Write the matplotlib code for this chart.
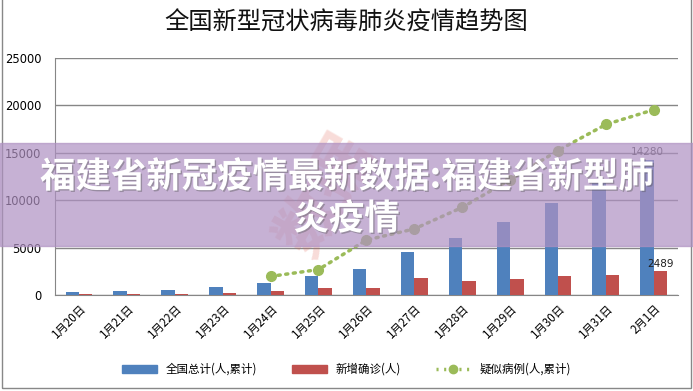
import numpy as np
import matplotlib
matplotlib.use("Agg")
import matplotlib.pyplot as plt
import matplotlib.patheffects as pe
from matplotlib.patches import Rectangle
from matplotlib.lines import Line2D

plt.rcParams['font.family'] = ['Noto Sans CJK SC', 'DejaVu Sans']

days = ["1月20日", "1月21日", "1月22日", "1月23日", "1月24日", "1月25日", "1月26日",
        "1月27日", "1月28日", "1月29日", "1月30日", "1月31日", "2月1日"]
total = [291, 440, 571, 830, 1287, 1975, 2744, 4515, 5974, 7711, 9692, 11791, 14280]
new_cases = [77, 149, 131, 259, 444, 688, 769, 1771, 1459, 1737, 1982, 2102, 2489]
suspect = [1965, 2684, 5794, 6973, 9239, 12167, 15238, 17988, 19544]

BLUE, RED, GREEN = "#4F81BD", "#C0504D", "#9BBB59"

fig = plt.figure(figsize=(6.93, 3.91), dpi=100)
ax = fig.add_axes([0.0794, 0.2455, 0.8986, 0.6062])

x = np.arange(len(days))
w = 0.28
ax.bar(x - w/2, total, w, color=BLUE, zorder=3)
ax.bar(x + w/2, new_cases, w, color=RED, zorder=3)
xs = x[len(days) - len(suspect):]
ax.plot(xs, suspect, color=GREEN, ls=(0, (0.6, 1.6)), lw=2.5, marker="o",
        ms=7, zorder=4, dash_capstyle="round")

ax.text(x[-1] - w/2, total[-1] + 250, f"{total[-1]}", ha="center", va="bottom",
        fontsize=7.5, color="#404040", family="DejaVu Sans", zorder=5)
ax.text(x[-1] + w/2, new_cases[-1] + 250, f"{new_cases[-1]}", ha="center", va="bottom",
        fontsize=7.5, color="#202020", family="DejaVu Sans", zorder=5)

ax.set_xlim(-0.5, len(days) - 0.5)
ax.set_ylim(0, 25000)
ax.set_yticks(range(0, 25001, 5000))
ax.set_yticklabels([str(v) for v in range(0, 25001, 5000)], family="DejaVu Sans",
                   fontsize=8.3)
ax.yaxis.grid(True, color="#868686", lw=1, zorder=0)
ax.set_xticks(x)
ax.set_xticklabels(days, rotation=45, ha="right", rotation_mode="anchor", fontsize=8.3)
ax.tick_params(axis="x", length=0, pad=5)
ax.tick_params(axis="y", length=0, pad=10)
for s in ["top", "right"]:
    ax.spines[s].set_visible(False)
for s in ["left", "bottom"]:
    ax.spines[s].set_color("#868686")

fig.text(0.5, 0.943, "全国新型冠状病毒肺炎疫情趋势图", ha="center", va="center",
         fontsize=17.5, color="#111111")

# legend
handles = [Rectangle((0, 0), 1, 1, color=BLUE), Rectangle((0, 0), 1, 1, color=RED),
           Line2D([], [], color=GREEN, ls=(0, (0.6, 1.6)), lw=2.5, marker="o", ms=6)]
fig.legend(handles, ["全国总计(人,累计)", "新增确诊(人)", "疑似病例(人,累计)"],
           loc="center", bbox_to_anchor=(0.5, 0.055), ncol=3, frameon=False,
           fontsize=8.3, handlelength=3, handleheight=0.6, columnspacing=3.0)

# outer frame
fig.patches.append(Rectangle((0.003, 0.008), 0.994, 1.2, transform=fig.transFigure,
                             fill=False, ec="#888888", lw=1))

# watermark stamp
fig.text(0.47, 0.5, "数据", rotation=60, fontsize=46, color="#E06050", alpha=0.22,
         ha="center", va="center", fontweight="bold")

# banner overlay
fig.patches.append(Rectangle((0, 1 - 246/391), 1, (246 - 143)/391,
                             transform=fig.transFigure, color=(175/255, 145/255, 194/255),
                             alpha=0.7, zorder=10))
eff = [pe.withSimplePatchShadow(offset=(1, -1), shadow_rgbFace="#555555", alpha=0.4)]
fig.text(0.5, 1 - 198/391, "福建省新冠疫情最新数据:福建省新型肺\n炎疫情", ha="center",
         va="center", fontsize=25.5, color="white", fontweight="bold", zorder=11,
         linespacing=1.25, path_effects=eff)

fig.savefig("out.png", dpi=100)
